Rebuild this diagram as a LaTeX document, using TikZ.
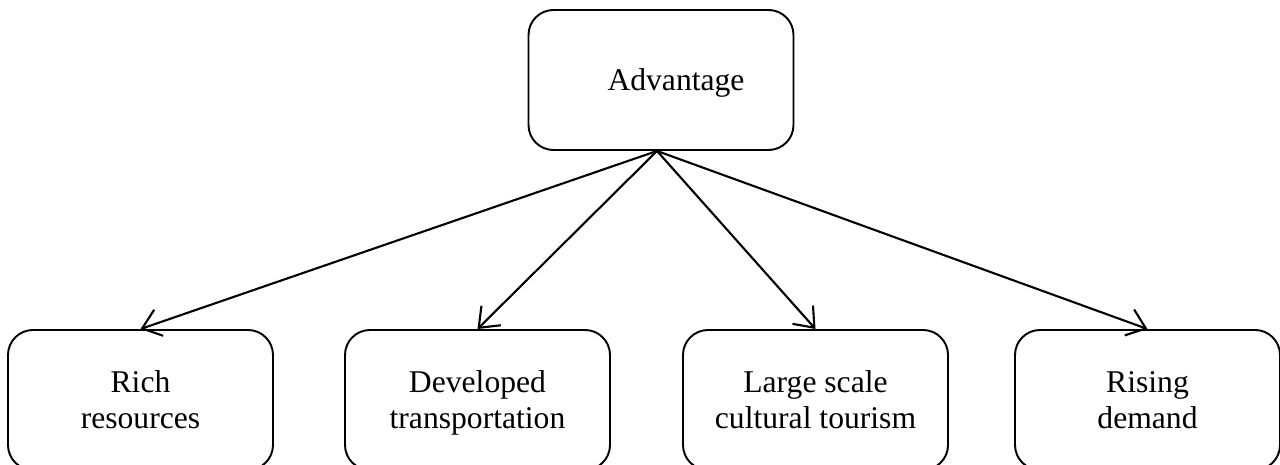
\documentclass[tikz,border=0pt]{standalone}
\usepackage{fontspec}
\setmainfont{Liberation Serif}
\usetikzlibrary{arrows.meta}

\begin{document}
\begin{tikzpicture}[
  box/.style={draw, line width=1.1pt, rounded corners=0.5cm, minimum width=5.3cm,
    minimum height=2.8cm, align=center, text depth=0pt, font=\fontsize{18}{20.5}\selectfont},
  link/.style={line width=1.2pt, -{Straight Barb[length=3.5mm,width=5.5mm,line width=1.2pt]}}]
\useasboundingbox (0,0) rectangle (25.6,9.3);

\node[box] (adv) at (13.22,7.70) {\hspace*{0.6cm}Advantage};

\node[box] (rich) at (2.81,1.3) {Rich\\resources};
\node[box] (trans) at (9.55,1.3) {Developed\\transportation};
\node[box] (tour) at (16.31,1.3) {Large scale\\cultural tourism};
\node[box] (dem) at (22.95,1.3) {Rising\\demand};

%\draw arrows from the top box
\draw[link] ([xshift=-0.08cm]adv.south) -- (rich.north);
\draw[link] ([xshift=-0.08cm]adv.south) -- (trans.north);
\draw[link] ([xshift=-0.08cm]adv.south) -- (tour.north);
\draw[link] ([xshift=-0.08cm]adv.south) -- (dem.north);

\end{tikzpicture}
\end{document}
